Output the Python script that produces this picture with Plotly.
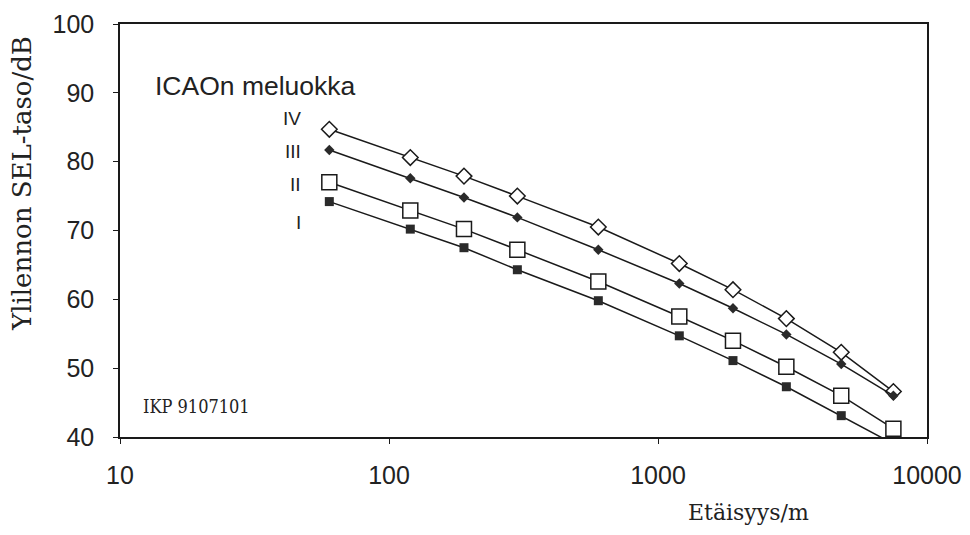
import plotly.graph_objects as go

distance_m = [60, 120, 190, 300, 600, 1200, 1900, 3000, 4800, 7500]
sel_IV = [84.7, 80.6, 77.9, 75.0, 70.5, 65.2, 61.4, 57.2, 52.3, 46.6]
sel_III = [81.7, 77.6, 74.8, 71.9, 67.2, 62.3, 58.7, 54.9, 50.6, 46.0]
sel_II = [77.0, 72.9, 70.2, 67.2, 62.6, 57.5, 54.0, 50.2, 46.0, 41.2]
sel_I = [74.2, 70.2, 67.5, 64.3, 59.8, 54.7, 51.1, 47.3, 43.1, 39.0]

x_ticks = [10, 100, 1000, 10000]
y_ticks = [40, 50, 60, 70, 80, 90, 100]

fig = go.Figure()
line = dict(color="#1a1a1a", width=1.5)
fig.add_trace(go.Scatter(x=distance_m, y=sel_IV, mode="lines+markers", line=line,
                         marker=dict(symbol="diamond", size=12, color="white",
                                     line=dict(color="#1a1a1a", width=1.5)), name="IV"))
fig.add_trace(go.Scatter(x=distance_m, y=sel_III, mode="lines+markers", line=line,
                         marker=dict(symbol="diamond", size=8, color="#2a2a2a"), name="III"))
fig.add_trace(go.Scatter(x=distance_m, y=sel_II, mode="lines+markers", line=line,
                         marker=dict(symbol="square", size=15, color="white",
                                     line=dict(color="#1a1a1a", width=1.5)), name="II"))
fig.add_trace(go.Scatter(x=distance_m, y=sel_I, mode="lines+markers", line=line, cliponaxis=False,
                         marker=dict(symbol="square", size=9, color="#2a2a2a"), name="I"))

OFF = 8  # page body margin offset
W, H = 970, 535
# plot area in reference pixel coordinates
X0, X1, Y0, Y1 = 120, 927, 24, 437
L, R = X0 - OFF, W - (X1 - OFF)
T, B = Y0 - OFF, H - (Y1 - OFF)
pw, ph = X1 - X0, Y1 - Y0

def px(xp):
    return (xp - X0) / pw

def py(yp):
    return (Y1 - yp) / ph

serif = "DejaVu Serif, Liberation Serif"
sans = "Liberation Sans, Arial"
ann = []
ann.append(dict(x=px(153), y=py(86), xref="paper", yref="paper", text="ICAOn meluokka",
                showarrow=False, xanchor="left", yanchor="middle",
                font=dict(family=sans, size=26.5, color="#222")))
for lab, yy in [("IV", 118), ("III", 151), ("II", 185), ("I", 222)]:
    ann.append(dict(x=px(303), y=py(yy), xref="paper", yref="paper", text=lab,
                    showarrow=False, xanchor="right", yanchor="middle",
                    font=dict(family=sans, size=19, color="#222")))
ann.append(dict(x=px(141), y=py(406), xref="paper", yref="paper", text="IKP 9107101",
                showarrow=False, xanchor="left", yanchor="middle",
                font=dict(family="DejaVu Serif Condensed, DejaVu Serif", size=18, color="#222")))
ann.append(dict(x=px(22), y=py(184), xref="paper", yref="paper", text="Ylilennon SEL-taso/dB",
                showarrow=False, textangle=-90, xanchor="center", yanchor="middle",
                font=dict(family=serif, size=26, color="#222")))
ann.append(dict(x=px(748), y=py(513), xref="paper", yref="paper", text="Etäisyys/m",
                showarrow=False, xanchor="center", yanchor="middle",
                font=dict(family=serif, size=22, color="#222")))

axis_common = dict(showline=True, linecolor="#1a1a1a", linewidth=1.5, mirror=True,
                   showgrid=False, zeroline=False, ticks="outside", ticklen=5,
                   tickcolor="#1a1a1a", tickwidth=1.3, automargin=False,
                   tickfont=dict(family=sans, size=25, color="#222"))
inner_common = dict(showline=False, showgrid=False, zeroline=False, ticks="inside", ticklen=5,
                    tickcolor="#1a1a1a", tickwidth=1.3, showticklabels=False, automargin=False)

fig.update_layout(
    width=W, height=H, margin=dict(l=L, r=R, t=T, b=B, autoexpand=False),
    paper_bgcolor="white", plot_bgcolor="white", showlegend=False,
    xaxis=dict(type="log", range=[1, 4], tickvals=x_ticks, ticktext=[str(v) for v in x_ticks],
               ticklabelstandoff=10, **axis_common),
    yaxis=dict(range=[40, 100], tickvals=y_ticks, ticklabelstandoff=14, **axis_common),
    xaxis2=dict(type="log", range=[1, 4], tickvals=x_ticks, overlaying="x", side="bottom",
                anchor="y", **inner_common),
    yaxis2=dict(range=[40, 100], tickvals=y_ticks, overlaying="y", side="left",
                anchor="x", **inner_common),
    annotations=ann,
)

fig.write_html("out.html")
